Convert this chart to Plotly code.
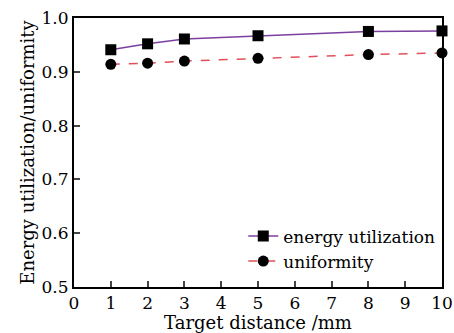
import plotly.graph_objects as go

distance = [1, 2, 3, 5, 8, 10]
energy_utilization = [0.941, 0.952, 0.961, 0.967, 0.975, 0.976]
uniformity = [0.914, 0.916, 0.920, 0.925, 0.932, 0.935]
x_ticks = list(range(0, 11))
y_ticks = [0.5, 0.6, 0.7, 0.8, 0.9, 1.0]

FONT = "DejaVu Serif"

fig = go.Figure()
fig.add_trace(go.Scatter(
    x=distance, y=energy_utilization, name="energy utilization",
    mode="lines+markers", cliponaxis=False,
    line=dict(color="#7b3fa0", width=1.5),
    marker=dict(symbol="square", size=11, color="black"),
))
fig.add_trace(go.Scatter(
    x=distance, y=uniformity, name="uniformity",
    mode="lines+markers", cliponaxis=False,
    line=dict(color="#e0505a", width=1.5, dash="dash"),
    marker=dict(symbol="circle", size=11, color="black"),
))

fig.update_layout(
    width=454, height=333,
    margin=dict(l=74, r=12, t=18, b=46, autoexpand=False),
    paper_bgcolor="white", plot_bgcolor="white",
    font=dict(family=FONT, size=18, color="black"),
    showlegend=True,
    legend=dict(x=0.46, y=0.255, xanchor="left", yanchor="top",
                bgcolor="rgba(0,0,0,0)", font=dict(size=17, family=FONT),
                itemwidth=30, tracegroupgap=0),
    xaxis=dict(range=[0, 10], tickvals=x_ticks, ticks="inside", ticklen=6,
               tickwidth=1.5, showline=True, linecolor="black", linewidth=2,
               mirror=True, showgrid=False, zeroline=False, automargin=False,
               ticklabeloverflow="allow",
               title=dict(text="Target distance /mm", standoff=5,
                          font=dict(size=18, family=FONT)),
               tickfont=dict(size=17, family=FONT)),
    yaxis=dict(range=[0.5, 1.0], tickvals=y_ticks, tickformat=".1f",
               ticks="inside", ticklen=6, tickwidth=1.5, showline=True,
               linecolor="black", linewidth=2, mirror=True, showgrid=False,
               zeroline=False, automargin=False, ticklabeloverflow="allow",
               title=dict(text="Energy utilization/uniformity", standoff=2,
                          font=dict(size=18, family=FONT)),
               tickfont=dict(size=17, family=FONT)),
)

fig.write_html("out.html")
